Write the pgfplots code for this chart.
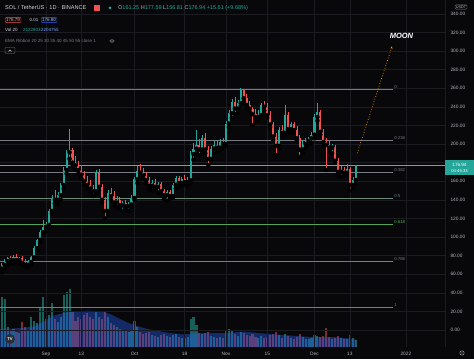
\documentclass[border=0pt]{standalone}
\usepackage{fontspec}
\setmainfont{Liberation Sans}
\usepackage{pgfplots}
\usepackage{pgfplotstable}
\pgfplotsset{compat=1.18}
\usetikzlibrary{arrows.meta}

\definecolor{bg}{HTML}{08080B}
\definecolor{gridc}{HTML}{1A1C22}
\definecolor{upc}{HTML}{26A69A}
\definecolor{dnc}{HTML}{EF5350}
\definecolor{fibc}{HTML}{787B86}
\definecolor{fibg}{HTML}{4CAF50}
\definecolor{axtext}{HTML}{B2B5BE}
\definecolor{hdr}{HTML}{D1D4DC}
\definecolor{volma}{HTML}{2962FF}
\definecolor{moonc}{HTML}{FF9800}
\definecolor{logoc}{HTML}{2A2E39}

\newcommand{\fA}{\fontsize{5.6}{6}\selectfont}
\newcommand{\fB}{\fontsize{5.5}{6}\selectfont}
\newcommand{\fC}{\fontsize{4.5}{5}\selectfont}

% green (up) candles: day index (Sep 1 2021 = 0), open, high, low, close, volume (M)
\pgfplotstableread{
d o h l c v
-15 66 72 62 70 15.0
-14 70 76 66 74 14.4
-13 74 79 70 77 6.0
-11 75 81 72 79 5.4
-9 75 79 72 77 4.2
-6 70 75 68 73 5.1
-5 73 80 71 78 9.0
-4 78 90 77 88 7.8
-3 88 98 86 97 7.2
-2 97 107 95 105 12.0
-1 105 118 102 111 15.0
0 111 116 106 113 8.4
1 113 130 110 128 9.6
2 128 145 125 142 13.2
4 140 148 136 145 7.5
5 145 158 140 156 9.0
6 156 175 152 172 15.6
7 172 194 168 191 16.5
8 191 216 184 193 17.4
17 149 172 146 169 10.8
21 128 150 124 147 9.0
24 137 144 132 140 6.0
26 134 139 128 137 5.1
28 133 138 128 135 4.5
29 135 145 132 142 4.8
30 142 165 140 162 7.8
31 162 176 158 171 6.0
36 155 161 150 158 3.6
38 154 159 148 157 3.0
41 145 151 139 148 3.3
43 144 158 142 156 3.6
44 156 166 152 163 3.9
46 158 165 155 162 2.7
48 159 164 155 161 3.0
49 161 192 158 189 8.4
50 189 201 183 195 9.0
51 195 215 190 199 6.6
53 194 210 190 206 3.9
56 184 198 182 195 3.3
57 195 203 190 199 3.0
59 196 205 193 202 3.0
61 200 225 198 222 4.8
62 222 236 218 233 5.4
63 233 248 228 245 5.1
65 238 247 234 244 3.3
66 244 260 241 258 4.5
72 229 236 225 231 2.7
73 231 244 228 242 3.3
79 198 218 195 215 3.6
81 212 242 210 231 3.9
83 216 224 212 221 2.7
87 194 204 190 200 3.0
88 200 206 196 203 2.4
89 203 208 199 206 2.4
90 206 213 201 210 2.7
91 210 232 206 229 3.6
92 229 244 225 234 3.3
97 196 200 190 197 2.4
100 170 176 165 172 2.7
102 169 178 167 173 2.4
104 156 164 153 161.33 2.7
105 161.25 177.59 156.81 176.94 2.12
}\gtab

% red (down) candles
\pgfplotstableread{
d o h l c v
-12 77 80 72 75 4.8
-10 79 82 74 75 4.5
-8 77 80 70 72 7.5
-7 72 76 68 70 6.0
3 142 150 136 140 8.4
9 193 196 176 180 10.5
10 180 187 172 177 7.8
11 177 182 168 172 9.0
12 172 177 163 167 8.4
13 167 171 156 160 9.6
14 160 166 152 156 10.2
15 156 161 148 152 9.0
16 152 156 144 149 8.4
18 169 173 150 154 9.0
19 154 157 137 140 8.4
20 140 143 120 128 10.8
22 147 153 140 144 7.2
23 144 149 134 137 6.6
25 140 143 131 134 5.4
27 137 140 129 133 4.8
32 171 178 165 169 4.5
33 169 174 163 166 3.9
34 166 170 158 161 4.2
35 161 164 152 155 4.5
37 158 162 151 154 3.3
39 157 159 146 149 3.6
40 149 152 141 145 3.9
42 148 151 141 144 3.0
45 163 166 155 158 3.0
47 162 167 156 159 2.7
52 199 205 188 194 4.2
54 206 212 190 194 4.2
55 194 198 177 184 4.5
58 199 204 192 196 2.7
60 202 206 196 200 2.7
64 245 250 232 238 3.9
67 258 259 245 249 4.2
68 249 254 239 242 3.6
69 242 246 235 238 3.3
70 238 240 220 232 3.9
71 232 238 226 229 3.0
74 242 246 236 240 2.7
75 240 244 228 231 3.0
76 231 235 218 221 3.6
77 221 224 205 208 3.9
78 208 212 188 198 4.5
80 215 220 208 212 2.7
82 231 234 212 216 3.3
84 221 224 213 215 2.4
85 215 219 204 206 3.0
86 206 210 186 194 3.9
93 234 236 210 213 3.0
94 213 216 198 202 3.3
95 202 206 172 199 5.7
96 199 203 192 196 3.0
98 197 199 180 182 2.7
99 182 185 166 170 3.3
101 172 175 166 169 2.4
103 173 175 150 156 3.6
}\rtab

% Vol 20 moving average (M)
\pgfplotstableread{
d m
-16 5.4
-13 5.5
-10 5.6
-7 5.8
-4 6.2
-2 6.9
0 8.0
2 9.2
5 10.0
8 10.5
11 10.7
14 10.9
17 10.8
20 10.4
22 9.8
24 8.9
26 8.0
28 7.2
30 6.6
32 6.0
34 5.5
36 5.1
38 4.8
40 4.5
43 4.1
46 3.8
49 3.9
52 4.1
55 4.3
58 4.2
61 4.2
64 4.4
67 4.6
70 4.4
73 4.1
76 3.9
79 3.7
82 3.5
85 3.3
88 3.1
91 3.0
94 3.0
97 3.0
100 2.8
103 2.5
105 2.2
}\matab

\begin{document}
\begin{tikzpicture}
\fill[bg] (0pt,0pt) rectangle (474pt,359pt);

% ---------- volume pane ----------
\begin{axis}[at={(0pt,12pt)}, anchor=south west, scale only axis,
  width=445pt, height=347pt,
  xmin=-15.59, xmax=135.25, ymin=0, ymax=104.1,
  hide axis, clip=true]
\addplot[ycomb, line width=2.1pt, draw=upc, draw opacity=0.55, mark=none] table[x=d,y=v]{\gtab};
\addplot[ycomb, line width=2.1pt, draw=dnc, draw opacity=0.5, mark=none] table[x=d,y=v]{\rtab};
\addplot[fill=volma, fill opacity=0.38, draw=none] table[x=d,y=m]{\matab} \closedcycle;
\end{axis}

% ---------- price pane ----------
\begin{axis}[at={(0pt,12pt)}, anchor=south west, scale only axis,
  width=445pt, height=347pt,
  xmin=-15.59, xmax=135.25, ymin=-18.3, ymax=354.8,
  axis line style={draw=none}, major tick length=0pt,
  xtick={0,12,30,47,61,75,91,103,122},
  xticklabels={Sep,13,Oct,18,Nov,15,Dec,13,2022},
  ytick={0,20,40,60,80,100,120,140,160,200,220,240,260,280,300,320,340},
  extra y ticks={180}, extra y tick labels={},
  yticklabel pos=right,
  yticklabel={\pgfmathprintnumber[fixed,fixed zerofill,precision=2,assume math mode=true]{\tick}},
  grid=major, major grid style={draw=gridc, line width=0.4pt},
  extra tick style={grid=major, major grid style={draw=gridc, line width=0.4pt}},
  tick label style={font=\fontsize{4.8}{5}\selectfont, text=axtext},
  xticklabel style={yshift=-1.5pt},
  yticklabel style={xshift=2pt},
  clip=true]

% Fibonacci retracement levels (high 259, low 24)
\addplot[fibc, line width=0.5pt] coordinates {(-16,259) (117.6,259)};
\addplot[fibc, line width=0.5pt] coordinates {(-16,203.5) (117.6,203.5)};
\addplot[fibc, line width=0.5pt] coordinates {(-16,169.2) (117.6,169.2)};
\addplot[fibc!70!fibg, line width=0.5pt] coordinates {(-16,141.5) (117.6,141.5)};
\addplot[fibg!80!fibc, line width=0.5pt] coordinates {(-16,113.8) (117.6,113.8)};
\addplot[fibc, line width=0.5pt] coordinates {(-16,74.3) (117.6,74.3)};
\addplot[fibc, line width=0.5pt] coordinates {(-16,24) (117.6,24)};
% last price line
\addplot[fibc!80!white, line width=0.4pt] coordinates {(-16,176.94) (136,176.94)};

% wicks
\addplot[only marks, mark=none, forget plot,
  error bars/.cd, y dir=plus, y explicit, error mark=none,
  error bar style={draw=upc, line width=0.5pt}]
  table[x=d, y=l, y error expr=\thisrow{h}-\thisrow{l}] {\gtab};
\addplot[only marks, mark=none, forget plot,
  error bars/.cd, y dir=plus, y explicit, error mark=none,
  error bar style={draw=dnc, line width=0.5pt}]
  table[x=d, y=l, y error expr=\thisrow{h}-\thisrow{l}] {\rtab};
% bodies
\addplot[only marks, mark=none, forget plot,
  error bars/.cd, y dir=plus, y explicit, error mark=none,
  error bar style={draw=upc, line width=2.1pt}]
  table[x=d, y=o, y error expr=\thisrow{c}-\thisrow{o}] {\gtab};
\addplot[only marks, mark=none, forget plot,
  error bars/.cd, y dir=plus, y explicit, error mark=none,
  error bar style={draw=dnc, line width=2.1pt}]
  table[x=d, y=c, y error expr=\thisrow{o}-\thisrow{c}] {\rtab};

% moon projection
\addplot[moonc, dotted, line width=0.7pt, -{Stealth[length=2.5pt,width=2.2pt]}]
  coordinates {(105.5,190) (117.3,305)};
\node[font=\fontsize{7.5}{8}\selectfont\bfseries\itshape, text=white] at (axis cs:120.5,316) {MOON};

% fib labels
\begin{scope}[every node/.style={anchor=south west, inner sep=0.6pt, font=\fontsize{4.3}{5}\selectfont}]
\node[text=fibc] at (axis cs:117.8,259) {0};
\node[text=fibc] at (axis cs:117.8,203.5) {0.236};
\node[text=fibc] at (axis cs:117.8,169.2) {0.382};
\node[text=fibc] at (axis cs:117.8,141.5) {0.5};
\node[text=fibg] at (axis cs:117.8,113.8) {0.618};
\node[text=fibc] at (axis cs:117.8,74.3) {0.786};
\node[text=fibc] at (axis cs:117.8,24) {1};
\end{scope}
\end{axis}

% right scale border
\draw[gridc, line width=0.5pt] (445pt,12pt) -- (445pt,359pt);

% header
\node[anchor=west, inner sep=0pt, text=hdr, font=\fA] at (5pt,351pt) {SOL / TetherUS · 1D · BINANCE};
\fill[dnc] (94pt,348pt) rectangle (99.5pt,354pt);
\fill[upc] (110pt,351pt) circle (1.5pt);
\node[anchor=west, inner sep=0pt, font=\fB] at (118pt,351pt)
 {\textcolor{axtext}{O}\textcolor{upc}{161.25} \textcolor{axtext}{H}\textcolor{upc}{177.59} \textcolor{axtext}{L}\textcolor{upc}{156.81} \textcolor{axtext}{C}\textcolor{upc}{176.94} \textcolor{upc}{+15.61 (+9.68\%)}};
\node[anchor=west, draw=dnc, rounded corners=1pt, inner sep=1pt, text=dnc!55!white, font=\fC] at (5pt,339pt) {176.79};
\node[anchor=west, inner sep=0pt, text=hdr, font=\fC] at (29.5pt,339pt) {0.01};
\node[anchor=west, draw=volma, rounded corners=1pt, inner sep=1pt, text=volma!45!white, font=\fC] at (41pt,339pt) {176.80};
\node[anchor=west, inner sep=0pt, text=hdr, font=\fC] at (5pt,329pt) {Vol 20};
\node[anchor=west, inner sep=0pt, text=upc, font=\fC] at (23pt,329pt) {2122803};
\node[anchor=west, inner sep=0pt, text=volma!60!white, font=\fC] at (41pt,329pt) {2204755};
\node[anchor=west, inner sep=0pt, text=fibc, font=\fC] at (5pt,318pt) {EMA Ribbon 20 25 30 35 40 45 50 55 close 1};
\draw[axtext, line width=0.35pt] (112pt,318pt) ellipse (2.2pt and 1.3pt);
\fill[axtext] (112pt,318pt) circle (0.6pt);
\draw[fibc, line width=0.35pt, rounded corners=1pt] (5pt,305.5pt) rectangle (15pt,311.5pt);
\draw[hdr, line width=0.4pt] (8.5pt,307.5pt) -- (10pt,309pt) -- (11.5pt,307.5pt);

% right scale extras
\node[draw=fibc, rounded corners=1pt, inner sep=0.8pt, text=axtext, font=\fontsize{3.8}{4}\selectfont] at (461pt,352pt) {USDT};
\fill[upc] (445pt,184pt) rectangle (474pt,198.5pt);
\node[text=white, inner sep=0pt, font=\fontsize{4.6}{5}\selectfont] at (459.5pt,193.8pt) {176.94};
\node[text=white, inner sep=0pt, font=\fontsize{4.2}{5}\selectfont] at (459.5pt,187.8pt) {04:45:33};
\draw[axtext, line width=0.4pt] (462pt,6pt) circle (2.2pt);
\fill[axtext] (462pt,6pt) circle (0.7pt);

% logo
\fill[logoc] (10pt,20pt) circle (5pt);
\node[text=white, inner sep=0pt, font=\fontsize{4}{4}\selectfont\bfseries] at (10pt,20pt) {TV};

\pgfresetboundingbox
\useasboundingbox (0pt,0pt) rectangle (474pt,359pt);
\end{tikzpicture}
\end{document}
